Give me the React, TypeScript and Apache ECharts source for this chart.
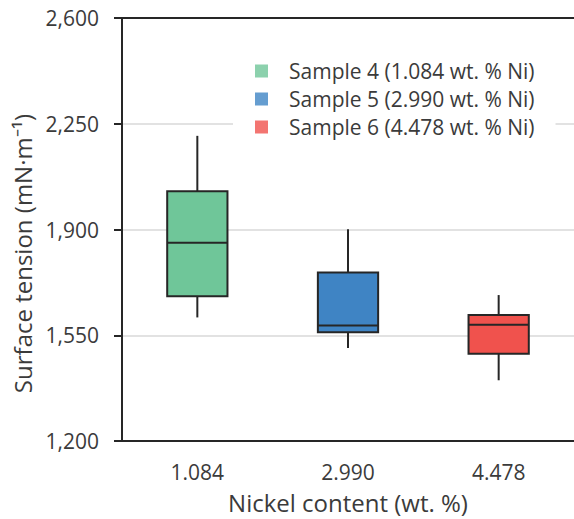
import React, { useEffect, useRef } from "react";
import * as echarts from "echarts";

const categories = ["1.084", "2.990", "4.478"];
const sampleNames = [
  "Sample 4 (1.084 wt. % Ni)",
  "Sample 5 (2.990 wt. % Ni)",
  "Sample 6 (4.478 wt. % Ni)",
];
// [min, Q1, median, Q3, max]
const boxStats = [
  [1609, 1679, 1856, 2027, 2210],
  [1508, 1560, 1582, 1758, 1901],
  [1401, 1489, 1585, 1617, 1683],
];
const boxColors = ["#6fc699", "#3f84c4", "#f0524d"];
const yTicks = [1200, 1550, 1900, 2250, 2600];

const FONT = "Open Sans";
const TXT = "#3b3b3b";
const AX = "#262626";

export default function App() {
  const ref = useRef<HTMLDivElement>(null);
  useEffect(() => {
    if (!ref.current) return;
    const chart = echarts.init(ref.current, undefined, { renderer: "svg" });
    const data = boxStats.map((s, i) => [i, ...s]);
    const option: any = {
      animation: false,
      backgroundColor: "#ffffff",
      grid: { left: 122, top: 18, width: 455, height: 423, show: false },
      legend: {
        orient: "vertical",
        left: 233,
        top: 53,
        backgroundColor: "#ffffff",
        padding: [7, 21, 7, 22],
        itemWidth: 13,
        itemHeight: 13,
        itemGap: 6,
        icon: "rect",
        data: sampleNames,
        textStyle: {
          fontFamily: FONT,
          fontSize: 21,
          color: TXT,
          lineHeight: 22,
          padding: [0, 0, 0, 16],
        },
      },
      xAxis: [
        {
          type: "category",
          data: categories,
          position: "bottom",
          axisLine: { lineStyle: { color: AX, width: 2 } },
          axisTick: { alignWithLabel: true, length: 6, lineStyle: { color: AX, width: 2 } },
          axisLabel: { fontFamily: FONT, fontSize: 21, color: TXT, margin: 20 },
          name: "Nickel content (wt. %)",
          nameLocation: "middle",
          nameGap: 49,
          nameTextStyle: { fontFamily: FONT, fontSize: 24, color: TXT },
        },
        {
          type: "category",
          data: categories,
          position: "top",
          axisLine: { lineStyle: { color: AX, width: 2 } },
          axisTick: { show: false },
          axisLabel: { show: false },
        },
      ],
      yAxis: {
        type: "value",
        min: yTicks[0],
        max: yTicks[yTicks.length - 1],
        interval: 350,
        axisLine: { show: true, lineStyle: { color: AX, width: 2 } },
        axisTick: { show: true, length: 8, lineStyle: { color: AX, width: 2 } },
        axisLabel: {
          fontFamily: FONT,
          fontSize: 21,
          color: TXT,
          margin: 23,
          formatter: (v: number) => v.toString().replace(/\B(?=(\d{3})+(?!\d))/g, ","),
        },
        splitLine: { show: true, lineStyle: { color: "#d9d9d9", width: 1.5 } },
        name: "Surface tension (mN·m⁻¹)",
        nameLocation: "middle",
        nameGap: 81,
        nameTextStyle: { fontFamily: FONT, fontSize: 24, color: TXT, padding: [0, 48, 0, 0] },
      },
      series: [
        {
          type: "custom",
          name: "box",
          data,
          encode: { x: 0, y: [1, 2, 3, 4, 5] },
          renderItem: (params: any, api: any) => {
            const idx = api.value(0);
            const pMin = api.coord([idx, api.value(1)]);
            const pQ1 = api.coord([idx, api.value(2)]);
            const pMed = api.coord([idx, api.value(3)]);
            const pQ3 = api.coord([idx, api.value(4)]);
            const pMax = api.coord([idx, api.value(5)]);
            const bw = api.size([1, 0])[0] * 0.4;
            const x = pQ1[0];
            const lineStyle = { stroke: AX, lineWidth: 2 };
            return {
              type: "group",
              children: [
                { type: "line", shape: { x1: x, y1: pMax[1], x2: x, y2: pQ3[1] }, style: lineStyle },
                { type: "line", shape: { x1: x, y1: pQ1[1], x2: x, y2: pMin[1] }, style: lineStyle },
                {
                  type: "rect",
                  shape: { x: x - bw / 2, y: pQ3[1], width: bw, height: pQ1[1] - pQ3[1] },
                  style: { fill: boxColors[idx], stroke: AX, lineWidth: 2 },
                },
                {
                  type: "line",
                  shape: { x1: x - bw / 2, y1: pMed[1], x2: x + bw / 2, y2: pMed[1] },
                  style: lineStyle,
                },
              ],
            };
          },
          z: 3,
        },
        ...sampleNames.map((n, i) => ({
          type: "scatter",
          name: n,
          data: [],
          itemStyle: { color: boxColors[i] },
        })),
      ],
    };
    chart.setOption(option);
    return () => chart.dispose();
  }, []);
  return (
    <div
      ref={ref}
      style={{ position: "fixed", left: 0, top: 0, width: 574, height: 519, background: "#fff" }}
    />
  );
}
